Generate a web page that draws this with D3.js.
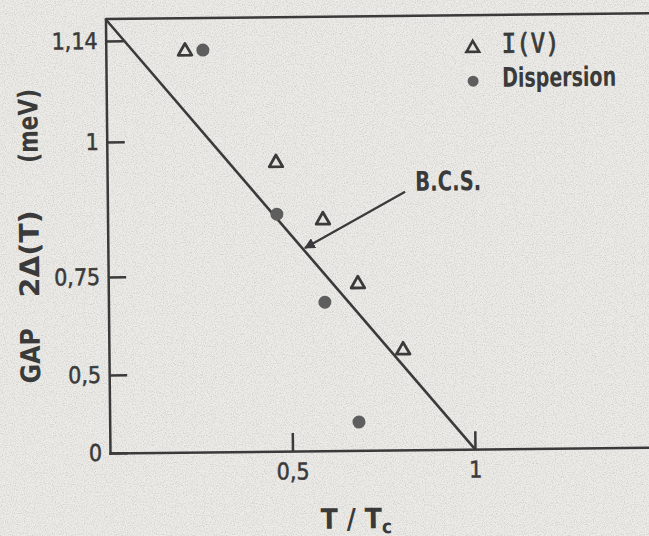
<!DOCTYPE html>
<html>
<head>
<meta charset="utf-8">
<script src="https://cdn.jsdelivr.net/npm/d3@7"></script>
<style>
    body { margin: 0; background: #ecebe7; }
    svg { display: block; }
    .axis path, .axis line { stroke: #3a3a3a; stroke-width: 2.5; }
    .axis text { font-family: 'DejaVu Sans Condensed', 'DejaVu Sans', sans-serif; font-size: 23px; fill: #3a3a3a; stroke: #3a3a3a; stroke-width: 0.5; }
    .lbl { font-family: 'DejaVu Sans Condensed', 'DejaVu Sans', sans-serif; font-weight: bold; fill: #3a3a3a; }
</style>
</head>
<body>
<div id="chart"></div>
<script>
// values
const ivT = [0.217, 0.463, 0.590, 0.684, 0.806]
const ivGap = [1.126, 0.960, 0.853, 0.728, 0.558]
const dispT = [0.266, 0.464, 0.593, 0.683]
const dispGap = [1.126, 0.863, 0.680, 0.182]
const bcsT = [0, 1]
const bcsGap = [1.17, 0]
const xTicks = [0.5, 1]
const xTickLabels = ['0,5', '1']
const yTicks = [0, 0.5, 0.75, 1, 1.14]
const yTickLabels = ['0', '0,5', '0,75', '1', '1,14']
// arrow for the B.C.S. note, data units
const arrowFrom = [0.816, 0.902]
const arrowTo = [0.540, 0.800]

const W = 649, H = 536
const ink = '#3a3a3a'

const svg = d3.select('#chart').append('svg')
    .attr('width', W)
    .attr('height', H)

// scan speckle
const defs = svg.append('defs')
const f = defs.append('filter').attr('id', 'grain')
f.append('feTurbulence').attr('type', 'fractalNoise').attr('baseFrequency', 0.9).attr('numOctaves', 2).attr('seed', 3)
f.append('feColorMatrix').attr('values', '0 0 0 0 0.3  0 0 0 0 0.3  0 0 0 0 0.3  0 0 0 -2.2 1.25')
svg.append('rect').attr('width', W).attr('height', H).attr('fill', '#ecebe7')
svg.append('rect').attr('width', W).attr('height', H).attr('filter', 'url(#grain)').attr('opacity', 0.35)

defs.append('marker')
    .attr('id', 'head')
    .attr('viewBox', '0 0 10 10')
    .attr('refX', 9).attr('refY', 5)
    .attr('markerWidth', 5).attr('markerHeight', 5)
    .attr('markerUnits', 'strokeWidth')
    .attr('orient', 'auto')
    .append('path').attr('d', 'M0,0L10,5L0,10z').attr('fill', ink)

// the page is scanned a little crooked
const g = svg.append('g').attr('transform', 'rotate(-0.6, 110, 453)')

const x = d3.scaleLinear().domain([0, 1.6]).range([110, 110 + 1.6 * 365])
// hand drawn axis, not evenly spaced
const y = d3.scaleLinear()
    .domain([0, 0.5, 0.75, 1, 1.14, 1.17])
    .range([453, 375, 277, 142, 41, 19])

const xAxis = d3.axisBottom(x)
    .tickValues(xTicks)
    .tickFormat((d, i) => xTickLabels[i])
    .tickSizeInner(-18).tickSizeOuter(0).tickPadding(12)
const yAxis = d3.axisLeft(y)
    .tickValues(yTicks)
    .tickFormat((d, i) => yTickLabels[i])
    .tickSizeInner(-18).tickSizeOuter(0).tickPadding(8)

g.append('g')
    .attr('class', 'axis')
    .attr('transform', `translate(0, ${y(0)})`)
    .call(xAxis)
g.append('g')
    .attr('class', 'axis')
    .attr('transform', `translate(${x(0)}, 0)`)
    .call(yAxis)
g.selectAll('.axis .domain').attr('stroke-linecap', 'square')
// top frame
g.append('line')
    .attr('x1', x(0)).attr('x2', x(1.6))
    .attr('y1', y(1.17)).attr('y2', y(1.17))
    .attr('stroke', ink).attr('stroke-width', 2.5)

// B.C.S. line
const line = d3.line()
    .x(d => x(d[0]))
    .y(d => y(d[1]))
g.append('path')
    .datum(bcsT.map((t, i) => [t, bcsGap[i]]))
    .attr('d', line)
    .attr('fill', 'none')
    .attr('stroke', ink)
    .attr('stroke-width', 2.6)

// points
const tri = d3.symbol().type(d3.symbolTriangle).size(80)
g.selectAll('.iv').data(ivT).enter().append('path')
    .attr('class', 'iv')
    .attr('transform', (d, i) => `translate(${x(d)}, ${y(ivGap[i]) + 1})`)
    .attr('d', tri)
    .attr('fill', '#e6e5e1')
    .attr('stroke', ink)
    .attr('stroke-width', 2.8)
    .attr('stroke-linejoin', 'round')
g.selectAll('.disp').data(dispT).enter().append('circle')
    .attr('class', 'disp')
    .attr('cx', d => x(d))
    .attr('cy', (d, i) => y(dispGap[i]))
    .attr('r', 6.5)
    .attr('fill', '#5e5e5e')

// B.C.S. note
g.append('line')
    .attr('x1', x(arrowFrom[0])).attr('y1', y(arrowFrom[1]))
    .attr('x2', x(arrowTo[0])).attr('y2', y(arrowTo[1]))
    .attr('stroke', ink)
    .attr('stroke-width', 2.2)
    .attr('marker-end', 'url(#head)')
g.append('text')
    .attr('class', 'lbl')
    .attr('x', 418).attr('y', 194)
    .attr('font-size', 27)
    .attr('textLength', 66).attr('lengthAdjust', 'spacingAndGlyphs')
    .text('B.C.S.')

// legend
g.append('path')
    .attr('transform', 'translate(477, 52)')
    .attr('d', d3.symbol().type(d3.symbolTriangle).size(70))
    .attr('fill', '#e6e5e1').attr('stroke', ink).attr('stroke-width', 2.6)
g.append('text')
    .attr('x', 506).attr('y', 57)
    .attr('font-family', "'DejaVu Sans Mono', monospace")
    .attr('font-size', 27)
    .attr('fill', ink)
    .attr('stroke', ink).attr('stroke-width', 0.8)
    .attr('textLength', 58).attr('lengthAdjust', 'spacingAndGlyphs')
    .text('I(V)')
g.append('circle')
    .attr('cx', 477).attr('cy', 85).attr('r', 5.5)
    .attr('fill', '#5e5e5e')
g.append('text')
    .attr('class', 'lbl')
    .attr('x', 506).attr('y', 91)
    .attr('font-size', 27)
    .attr('textLength', 114).attr('lengthAdjust', 'spacingAndGlyphs')
    .text('Dispersion')

// axis titles
const xt = g.append('text')
    .attr('class', 'lbl')
    .attr('x', 320).attr('y', 531)
    .attr('font-size', 28)
xt.append('tspan').text('T / T')
xt.append('tspan').attr('font-size', 19).attr('dy', 5).text('c')

const yTitle = [['GAP', 355, 55], ['2Δ(T)', 253, 87], ['(meV)', 125, 74]]
yTitle.forEach(d => {
    g.append('text')
        .attr('class', 'lbl')
        .attr('transform', `translate(41, ${d[1]}) rotate(-90)`)
        .attr('text-anchor', 'middle')
        .attr('font-size', 27)
        .attr('textLength', d[2]).attr('lengthAdjust', 'spacingAndGlyphs')
        .text(d[0])
})
</script>
</body>
</html>
